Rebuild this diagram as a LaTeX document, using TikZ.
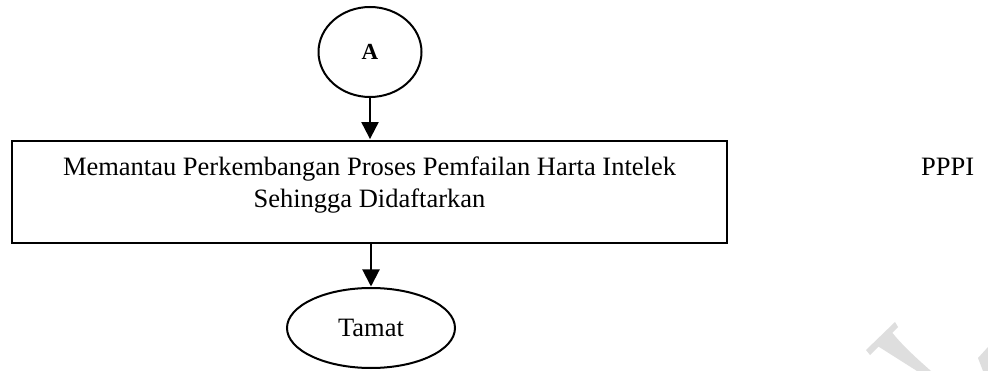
\documentclass[tikz,border=0pt]{standalone}
\usepackage{fontspec}
\setmainfont{Liberation Serif}
\usetikzlibrary{shapes.geometric,arrows.meta}
\begin{document}
\begin{tikzpicture}[x=1pt,y=-1pt,
  bigtext/.style={font=\fontsize{26.5}{32}\selectfont},
  termshape/.style={draw, ellipse, line width=2pt, inner sep=0pt},
  procbox/.style={draw, rectangle, line width=2.8pt, inner sep=0pt, minimum width=715pt, minimum height=102pt},
  flowarrow/.style={line width=2pt, -{Triangle[width=17pt,length=17pt]}, shorten >=0.5pt},
  watermark/.style={fill=black!13, draw=none}]
\useasboundingbox (0,0) rectangle (988,371);
\fill[white] (0,0) rectangle (988,371);
% watermark fragments
\fill[watermark] (866,350) -- (895,322) -- (898,327) -- (870,355) -- cycle;
\fill[watermark] (876,345) -- (891,331) .. controls (900,343) and (915,357) .. (931,371) -- (917,371) -- cycle;
\fill[watermark] (978,358) -- (988,347) -- (988,371) -- (983,371) -- cycle;
% nodes
\node[termshape, minimum width=103pt, minimum height=90pt,
      font=\fontsize{23}{26}\selectfont\bfseries] (A) at (370,52) {A};
\node[procbox] (box) at (369.5,192) {};
\node[bigtext, anchor=north, align=center, inner sep=0pt] (boxtext) at (369.5,157)
  {Memantau Perkembangan Proses Pemfailan Harta Intelek\\Sehingga Didaftarkan};
\node[bigtext, anchor=base west, inner sep=0pt] (pppi) at (921,176) {PPPI};
\node[termshape, minimum width=168pt, minimum height=80pt, bigtext] (T) at (371,328) {Tamat};
% connectors
\draw[flowarrow] (A.south) -- (A.south |- box.north);
\draw[flowarrow] (T.north |- box.south) -- (T.north);
\end{tikzpicture}
\end{document}
